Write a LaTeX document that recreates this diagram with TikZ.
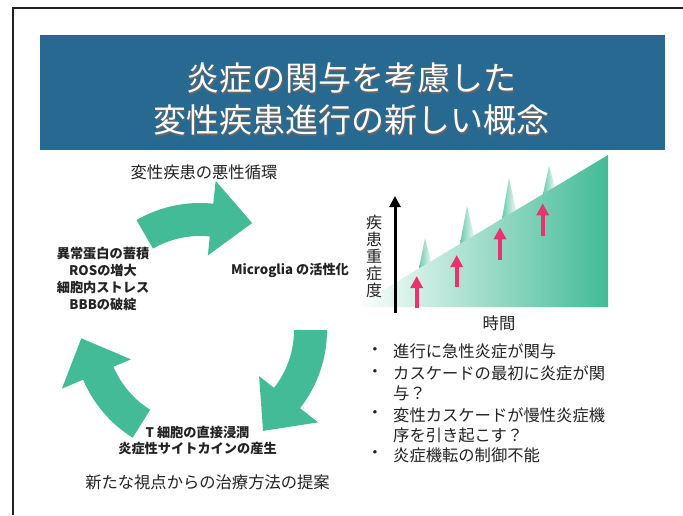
\documentclass[tikz,border=0pt]{standalone}
\usepackage{fontspec}
\setmainfont{Noto Sans CJK JP}
\usetikzlibrary{calc,arrows.meta}
\definecolor{tgreen}{RGB}{66,187,150}
\definecolor{tblue}{RGB}{40,105,145}
\definecolor{tpink}{RGB}{232,52,110}
\definecolor{ttext}{RGB}{35,35,35}
\definecolor{tframe}{RGB}{35,35,35}
\newcommand\cycarrow[3]{%
  \fill[tgreen] ($(C)+(-#1:127)$) arc[start angle=-#1, end angle=-#2, radius=127]
    -- ($(C)+(-#2:150)$) -- ($(C)+(-#3:119)$) -- ($(C)+(-#2:75)$) -- ($(C)+(-#2:94)$)
    arc[start angle=-#2, end angle=-#1, radius=94] -- cycle;}
\begin{document}
\begin{tikzpicture}[x=1pt,y=-1pt,
  lbl/.style={font=\fontsize{16.3}{20.7}\selectfont, text=ttext, inner sep=0pt},
  bld/.style={font=\fontsize{13.2}{16.8}\selectfont\bfseries, text=ttext, align=center, inner sep=0pt},
  ttl/.style={font=\fontsize{33}{42}\selectfont, align=center, inner sep=0pt},
  pinkarrow/.style={draw=tpink, line width=3.8pt, -{Triangle[width=12pt,length=12pt]}},
  axisarrow/.style={draw=black, line width=3pt, -{Triangle[width=11pt,length=11pt]}},
  spike/.style={left color=tgreen!80, right color=tgreen!10}]
\useasboundingbox (0,0) rectangle (683,515);
\fill[white] (0,0) rectangle (683,515);
\draw[line width=2pt, tframe] (683,7.5) -- (12.7,7.5) -- (12.7,515);
% title
\fill[tblue] (40,35) rectangle (665,150);
\node[ttl, text=black!60] (titleshadow) at (352.5,100.5) {炎症の関与を考慮した\\変性疾患進行の新しい概念};
\node[ttl, text=white] (title) at (351,99) {炎症の関与を考慮した\\変性疾患進行の新しい概念};
% cycle
\coordinate (C) at (200,330);
\cycarrow{120}{84}{64}
\cycarrow{0}{-38}{-58}
\cycarrow{238}{203}{184}
\node[lbl] (cycletitle) at (204,172) {変性疾患の悪性循環};
\node[bld] (causes) at (103,279) {異常蛋白の蓄積\\ROSの増大\\細胞内ストレス\\BBBの破綻};
\node[bld] (microglia) at (290,270) {Microglia の活性化};
\node[bld] (tcell) at (197.5,440.5) {T 細胞の直接浸潤\\炎症性サイトカインの産生};
\node[lbl] (proposal) at (207.5,482) {新たな視点からの治療方法の提案};
% graph
\shade[spike] (425,238) -- (431,261.4) -- (419,268.6) -- cycle;
\shade[spike] (467,206) -- (474,235.6) -- (460,244) -- cycle;
\shade[spike] (509,178) -- (516,210.4) -- (502,218.8) -- cycle;
\shade[spike] (549,166) -- (555,187) -- (543,194.2) -- cycle;
\shade[left color=white, right color=tgreen] (355,307) -- (608,307) -- (608,155) -- cycle;
\coordinate (ax0) at (395,312.7);
\coordinate (ax1) at (395,196);
\draw[axisarrow] (ax0) -- (ax1);
\coordinate (p1a) at (416.7,308); \coordinate (p1b) at (416.7,276);
\coordinate (p2a) at (456.7,287); \coordinate (p2b) at (456.7,255);
\coordinate (p3a) at (500,260);   \coordinate (p3b) at (500,227.3);
\coordinate (p4a) at (542.7,236); \coordinate (p4b) at (542.7,203.3);
\draw[pinkarrow] (p1a) -- (p1b);
\draw[pinkarrow] (p2a) -- (p2b);
\draw[pinkarrow] (p3a) -- (p3b);
\draw[pinkarrow] (p4a) -- (p4b);
\node[lbl, align=center, font=\fontsize{16}{17}\selectfont] (severity) at (374,256) {疾\\患\\重\\症\\度};
\node[lbl] (time) at (499,323) {時間};
% bullets
\node[lbl] (b1) at (375,351.7) {・};
\node[lbl] (b2) at (375,373.3) {・};
\node[lbl] (b3) at (375,415) {・};
\node[lbl] (b4) at (375,455) {・};
\node[lbl, anchor=west] (l1) at (393,351.7) {進行に急性炎症が関与};
\node[lbl, anchor=west] (l2) at (393,373.3) {カスケードの最初に炎症が関};
\node[lbl, anchor=west] (l3) at (393,393.3) {与？};
\node[lbl, anchor=west] (l4) at (393,415) {変性カスケードが慢性炎症機};
\node[lbl, anchor=west] (l5) at (393,435) {序を引き起こす？};
\node[lbl, anchor=west] (l6) at (393,455) {炎症機転の制御不能};
\end{tikzpicture}
\end{document}
